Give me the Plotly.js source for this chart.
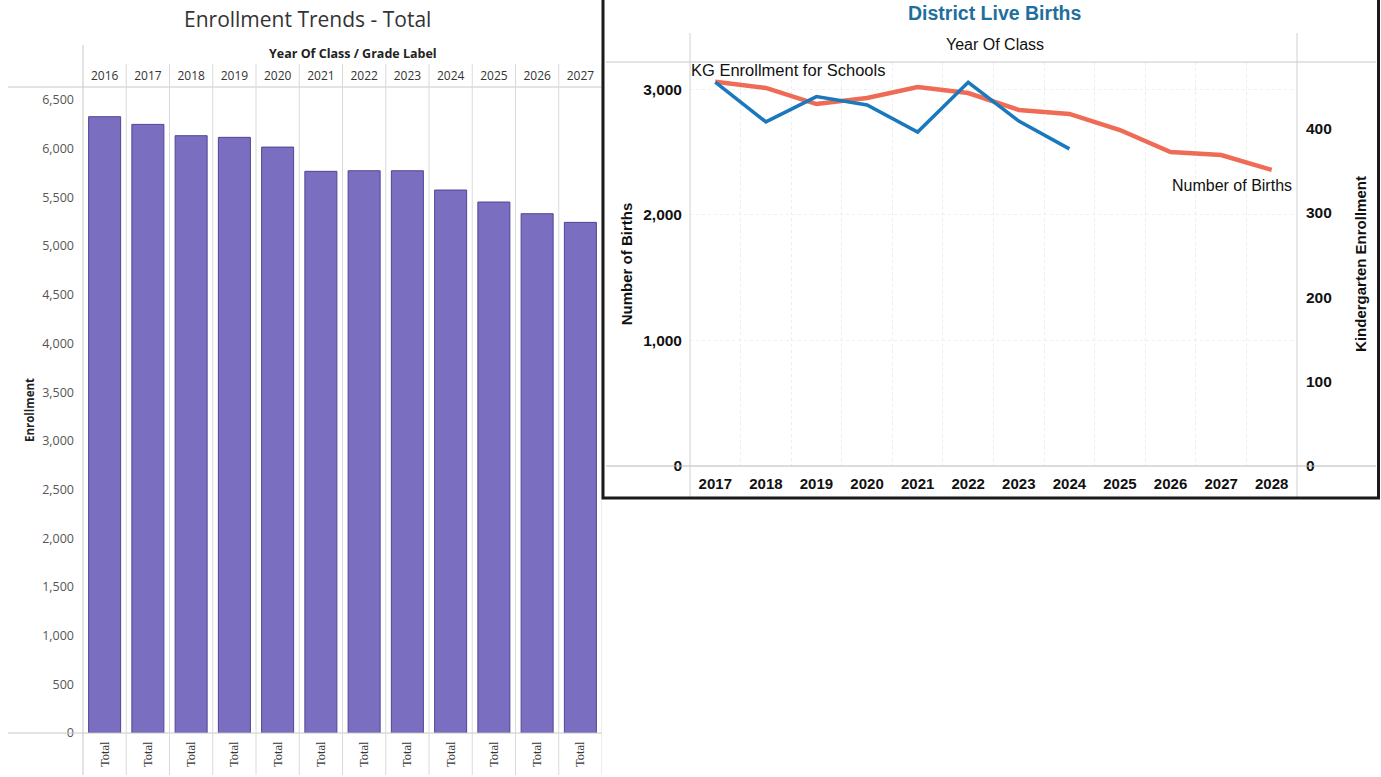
<!DOCTYPE html>
<html>
<head>
<meta charset="utf-8">
<script src="https://cdn.plot.ly/plotly-3.0.1.min.js"></script>
<style>html,body{margin:0;padding:0;background:#fff;}#chart{width:1381px;height:777px;}</style>
</head>
<body>
<div id="chart"></div>
<script>
// ---- Data: Enrollment Trends - Total ----
const enrollYears = ['2016','2017','2018','2019','2020','2021','2022','2023','2024','2025','2026','2027'];
const enrollLabel = ['Total','Total','Total','Total','Total','Total','Total','Total','Total','Total','Total','Total'];
const enrollTotal = [6328, 6249, 6133, 6116, 6016, 5767, 5773, 5773, 5575, 5452, 5332, 5243];

// ---- Data: District Live Births ----
const birthYears = ['2017','2018','2019','2020','2021','2022','2023','2024','2025','2026','2027','2028'];
const numberOfBirths = [3062, 3012, 2884, 2932, 3020, 2972, 2837, 2805, 2677, 2502, 2478, 2359];
const kgYears = ['2017','2018','2019','2020','2021','2022','2023','2024'];
const kgEnrollment = [455, 408, 438, 428, 396, 455, 409, 376];

const W = 1381, H = 777;
const px = v => v / W;
const py = v => 1 - v / H;

const tabFont = 'Open Sans, Noto Sans, DejaVu Sans, sans-serif';
const narrow = 'Liberation Sans Narrow, Arial Narrow, Liberation Sans, Arial, sans-serif';

const enrollIdx = enrollYears.map((_, i) => i);
const birthIdx = birthYears.map((_, i) => i);
const kgIdx = kgYears.map(y => birthYears.indexOf(y));

const traces = [
  {
    type: 'bar', x: enrollIdx, y: enrollTotal, xaxis: 'x', yaxis: 'y',
    marker: {color: '#7a6ec1', line: {color: '#4f4596', width: 1}},
    width: 0.74, hoverinfo: 'y', showlegend: false
  },
  // invisible carrier so the top year-label axis is drawn
  {
    type: 'scatter', mode: 'markers', x: enrollIdx, y: enrollTotal, xaxis: 'x2', yaxis: 'y',
    marker: {opacity: 0, size: 1}, hoverinfo: 'skip', showlegend: false
  },
  {
    type: 'scatter', mode: 'lines', x: birthIdx, y: numberOfBirths, xaxis: 'x3', yaxis: 'y3',
    line: {color: '#ef6b55', width: 4.5}, name: 'Number of Births', showlegend: false
  },
  {
    type: 'scatter', mode: 'lines', x: kgIdx, y: kgEnrollment, xaxis: 'x3', yaxis: 'y4',
    line: {color: '#1a78bd', width: 3.5}, name: 'KG Enrollment for Schools', showlegend: false
  },
  // invisible carrier so the boundary grid axis is drawn
  {
    type: 'scatter', mode: 'markers', x: birthIdx, y: numberOfBirths, xaxis: 'x5', yaxis: 'y3',
    marker: {opacity: 0, size: 1}, hoverinfo: 'skip', showlegend: false
  }
];

const shapes = [];
function hline(x0, x1, y, c, w) { shapes.push({type:'line', xref:'paper', yref:'paper', x0:px(x0), x1:px(x1), y0:py(y), y1:py(y), line:{color:c, width:w||1}}); }
function vline(x, y0, y1, c, w) { shapes.push({type:'line', xref:'paper', yref:'paper', x0:px(x), x1:px(x), y0:py(y0), y1:py(y1), line:{color:c, width:w||1}}); }

// left chart frame lines
hline(8, 602, 87, '#c8c8c8');
hline(8, 602, 733, '#c8c8c8');
vline(83, 45, 775, '#c8c8c8');
// column dividers derived from the category count
for (let i = 1; i <= enrollYears.length; i++) {
  shapes.push({type:'line', xref:'x', yref:'paper', x0:i-0.5, x1:i-0.5, y0:py(775), y1:py(64), line:{color:'#dadada', width:1}});
}
// right chart frame lines
hline(606, 1376, 62, '#c8c8c8');
hline(606, 1376, 466, '#b8b8b8');
vline(690, 33, 497, '#d0d0d0');
vline(1297, 33, 497, '#d0d0d0');
// border box
shapes.push({type:'rect', xref:'paper', yref:'paper', x0:px(603), x1:px(1378.5), y0:py(498), y1:py(-3), line:{color:'#1a1a1a', width:3}, fillcolor:'rgba(0,0,0,0)'});

const annotations = [
  {xref:'paper', yref:'paper', x:px(307), y:py(19), xanchor:'center', yanchor:'middle', text:'Enrollment Trends - Total', showarrow:false,
   font:{family:tabFont, size:21, color:'#333'}},
  {xref:'paper', yref:'paper', x:px(353), y:py(54), xanchor:'center', yanchor:'middle', text:'Year Of Class / Grade Label', showarrow:false,
   font:{family:tabFont, size:12.5, color:'#222', weight:'bold'}},
  {xref:'paper', yref:'paper', x:px(995), y:py(13), xanchor:'center', yanchor:'middle', text:'District Live Births', showarrow:false,
   font:{family:narrow, size:19.5, color:'#1f6e9c', weight:'bold'}},
  {xref:'paper', yref:'paper', x:px(995), y:py(45), xanchor:'center', yanchor:'middle', text:'Year Of Class', showarrow:false,
   font:{family:narrow, size:16, color:'#111'}},
  {xref:'x3', yref:'y4', x:kgIdx[0], y:kgEnrollment[0], text:'KG Enrollment for Schools', showarrow:false,
   xanchor:'left', yanchor:'bottom', xshift:-26, yshift:1, font:{family:narrow, size:16.5, color:'#111'}},
  {xref:'x3', yref:'y3', x:birthIdx[birthIdx.length-1], y:numberOfBirths[numberOfBirths.length-1], text:'Number of Births', showarrow:false,
   xanchor:'right', yanchor:'top', xshift:22, yshift:-5, font:{family:narrow, size:16, color:'#111'}}
];

const layout = {
  width: W, height: H,
  margin: {l:0, r:0, t:0, b:0},
  paper_bgcolor: '#fff', plot_bgcolor: 'rgba(0,0,0,0)',
  showlegend: false,
  xaxis: {
    domain: [px(83), px(602)], anchor: 'y', type: 'linear',
    range: [-0.5, enrollYears.length - 0.5],
    tickmode: 'array', tickvals: enrollIdx, ticktext: enrollLabel, tickangle: -90,
    tickfont: {family: 'Liberation Serif, serif', size: 12.5, color: '#333'},
    ticks: '', showgrid: false, showline: false, zeroline: false, ticklabelstandoff: 5
  },
  xaxis2: {
    domain: [px(83), px(602)], anchor: 'y', overlaying: 'x', side: 'top', type: 'linear',
    range: [-0.5, enrollYears.length - 0.5],
    tickmode: 'array', tickvals: enrollIdx, ticktext: enrollYears,
    tickfont: {family: tabFont, size: 12, color: '#333'},
    ticks: '', showgrid: false, showline: false, zeroline: false, ticklabelstandoff: 4
  },
  yaxis: {
    domain: [py(733), py(87)], anchor: 'x', range: [0, 6633],
    tickmode: 'linear', tick0: 0, dtick: 500, tickformat: ',d',
    tickfont: {family: tabFont, size: 12.5, color: '#555'},
    ticks: '', showgrid: false, zeroline: false, showline: false, ticklabelstandoff: 8,
    title: {text: 'Enrollment', font: {family: tabFont, size: 11.5, color: '#222', weight: 'bold'}, standoff: 5}
  },
  xaxis3: {
    domain: [px(690), px(1297)], anchor: 'y3', type: 'linear',
    range: [-0.5, birthYears.length - 0.5],
    tickmode: 'array', tickvals: birthIdx, ticktext: birthYears,
    tickfont: {family: narrow, size: 15, color: '#111', weight: 'bold'},
    ticks: '', showgrid: false, showline: false, zeroline: false, ticklabelstandoff: 7
  },
  xaxis5: {
    domain: [px(690), px(1297)], anchor: 'y3', overlaying: 'x3', type: 'linear',
    range: [-0.5, birthYears.length - 0.5],
    tickmode: 'array', tickvals: birthIdx.map(i => i + 0.5), showticklabels: false,
    ticks: '', showgrid: true, gridcolor: '#ececec', griddash: 'dot',
    showline: false, zeroline: false
  },
  yaxis3: {
    domain: [py(466), py(62)], anchor: 'x3', range: [0, 3219],
    tickmode: 'array', tickvals: [0, 1000, 2000, 3000], tickformat: ',d',
    tickfont: {family: narrow, size: 15.5, color: '#111', weight: 'bold'},
    ticks: '', showgrid: true, gridcolor: '#f0f0f0', griddash: 'dot', zeroline: false, showline: false,
    ticklabelstandoff: 7,
    title: {text: 'Number of Births', font: {family: narrow, size: 15, color: '#111', weight: 'bold'}, standoff: 6}
  },
  yaxis4: {
    domain: [py(466), py(62)], anchor: 'x3', overlaying: 'y3', side: 'right', range: [0, 479],
    tickmode: 'array', tickvals: [0, 100, 200, 300, 400],
    tickfont: {family: narrow, size: 15.5, color: '#111', weight: 'bold'},
    ticks: '', showgrid: false, zeroline: false, showline: false, ticklabelstandoff: 8,
    title: {text: 'Kindergarten Enrollment', font: {family: narrow, size: 15, color: '#111', weight: 'bold'}, standoff: 24}
  },
  shapes: shapes,
  annotations: annotations
};

Plotly.newPlot('chart', traces, layout, {staticPlot: true, displayModeBar: false});
</script>
</body>
</html>
